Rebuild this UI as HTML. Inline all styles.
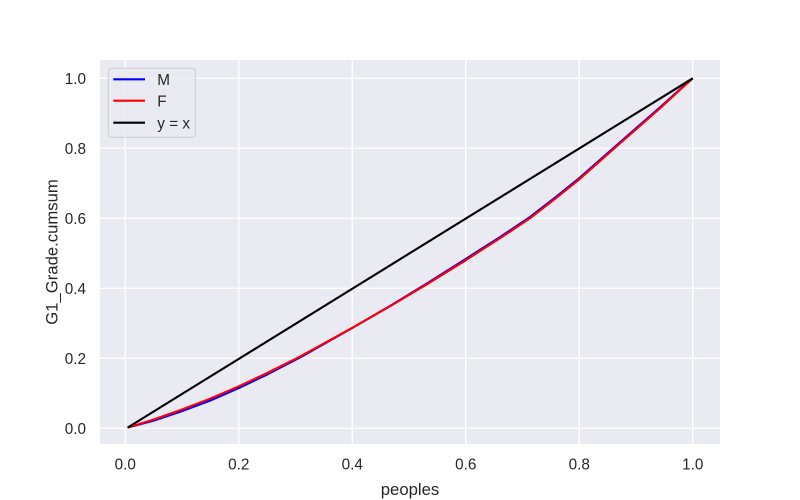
<!DOCTYPE html>
<html>
<head>
<meta charset="utf-8">
<style>
  html, body { margin: 0; padding: 0; background: #ffffff; }
  svg { display: block; }
  text { font-family: "Liberation Sans", Arial, sans-serif; fill: #262626; }
</style>
</head>
<body>
<svg width="800" height="500" viewBox="0 0 800 500" xmlns="http://www.w3.org/2000/svg">
  <rect x="0" y="0" width="800" height="500" fill="#ffffff"/>
  <!-- plot area -->
  <rect x="100" y="60" width="620" height="384" fill="#EAEAF2"/>
  <!-- grid -->
  <g stroke="#ffffff" stroke-width="1.4">
    <line x1="125.3" y1="60" x2="125.3" y2="444"/>
    <line x1="238.8" y1="60" x2="238.8" y2="444"/>
    <line x1="352.3" y1="60" x2="352.3" y2="444"/>
    <line x1="465.7" y1="60" x2="465.7" y2="444"/>
    <line x1="579.2" y1="60" x2="579.2" y2="444"/>
    <line x1="692.7" y1="60" x2="692.7" y2="444"/>
    <line x1="100" y1="428.3" x2="720" y2="428.3"/>
    <line x1="100" y1="358.3" x2="720" y2="358.3"/>
    <line x1="100" y1="288.3" x2="720" y2="288.3"/>
    <line x1="100" y1="218.3" x2="720" y2="218.3"/>
    <line x1="100" y1="148.3" x2="720" y2="148.3"/>
    <line x1="100" y1="78.3" x2="720" y2="78.3"/>
  </g>
  <!-- series -->
  <g fill="none" stroke-width="2.1" stroke-linejoin="round" stroke-linecap="butt">
    <polyline stroke="#0000ff" points="127.6,427.6 153.7,420.6 180.3,411.8 210.4,400.5 238.8,388.0 267.2,374.5 300.1,357.5 352.3,328.0 392.0,304.8 426.0,284.0 465.7,259.0 480,249.8 499.8,237.2 530,217.0 554.8,197.8 579.2,178.2 620,142.3 660.4,107.0 680,89.3 692.7,78.3"/>
    <polyline stroke="#ff0000" points="127.6,427.6 153.7,419.55 180.3,410.1 210.4,398.55 238.8,386.3 267.2,373.0 300.1,356.55 352.3,327.85 392.0,305.1 426.0,284.8 465.7,260.3 480,251.0 499.8,238.4 530,218.3 554.8,199.05 579.2,179.45 620,143.4 660.4,108.0 680,89.9 692.7,78.3"/>
    <line stroke="#000000" x1="127.6" y1="427.6" x2="692.7" y2="78.3"/>
  </g>
  <!-- y tick labels -->
  <g font-size="15.3" text-anchor="end">
    <text x="86" y="434">0.0</text>
    <text x="86" y="364">0.2</text>
    <text x="86" y="294">0.4</text>
    <text x="86" y="224">0.6</text>
    <text x="86" y="154">0.8</text>
    <text x="86" y="84">1.0</text>
  </g>
  <!-- x tick labels -->
  <g font-size="15.3" text-anchor="middle">
    <text x="125.3" y="469.5">0.0</text>
    <text x="238.8" y="469.5">0.2</text>
    <text x="352.3" y="469.5">0.4</text>
    <text x="465.7" y="469.5">0.6</text>
    <text x="579.2" y="469.5">0.8</text>
    <text x="692.7" y="469.5">1.0</text>
  </g>
  <!-- axis labels -->
  <text x="410" y="495" font-size="16.7" text-anchor="middle">peoples</text>
  <text x="0" y="0" font-size="16.7" text-anchor="middle" transform="translate(57.5,252) rotate(-90)">G1_Grade.cumsum</text>
  <!-- legend -->
  <rect x="108.3" y="68.3" width="87" height="69" rx="3" ry="3" fill="#EAEAF2" fill-opacity="0.8" stroke="#cccccc" stroke-width="1"/>
  <g stroke-width="2.1">
    <line x1="113.3" y1="79.3" x2="145" y2="79.3" stroke="#0000ff"/>
    <line x1="113.3" y1="100.7" x2="145" y2="100.7" stroke="#ff0000"/>
    <line x1="113.3" y1="122.7" x2="145" y2="122.7" stroke="#000000"/>
  </g>
  <g font-size="15.3">
    <text x="157.3" y="85">M</text>
    <text x="157.3" y="106.4">F</text>
    <text x="157.3" y="128.4">y = x</text>
  </g>
</svg>
</body>
</html>
